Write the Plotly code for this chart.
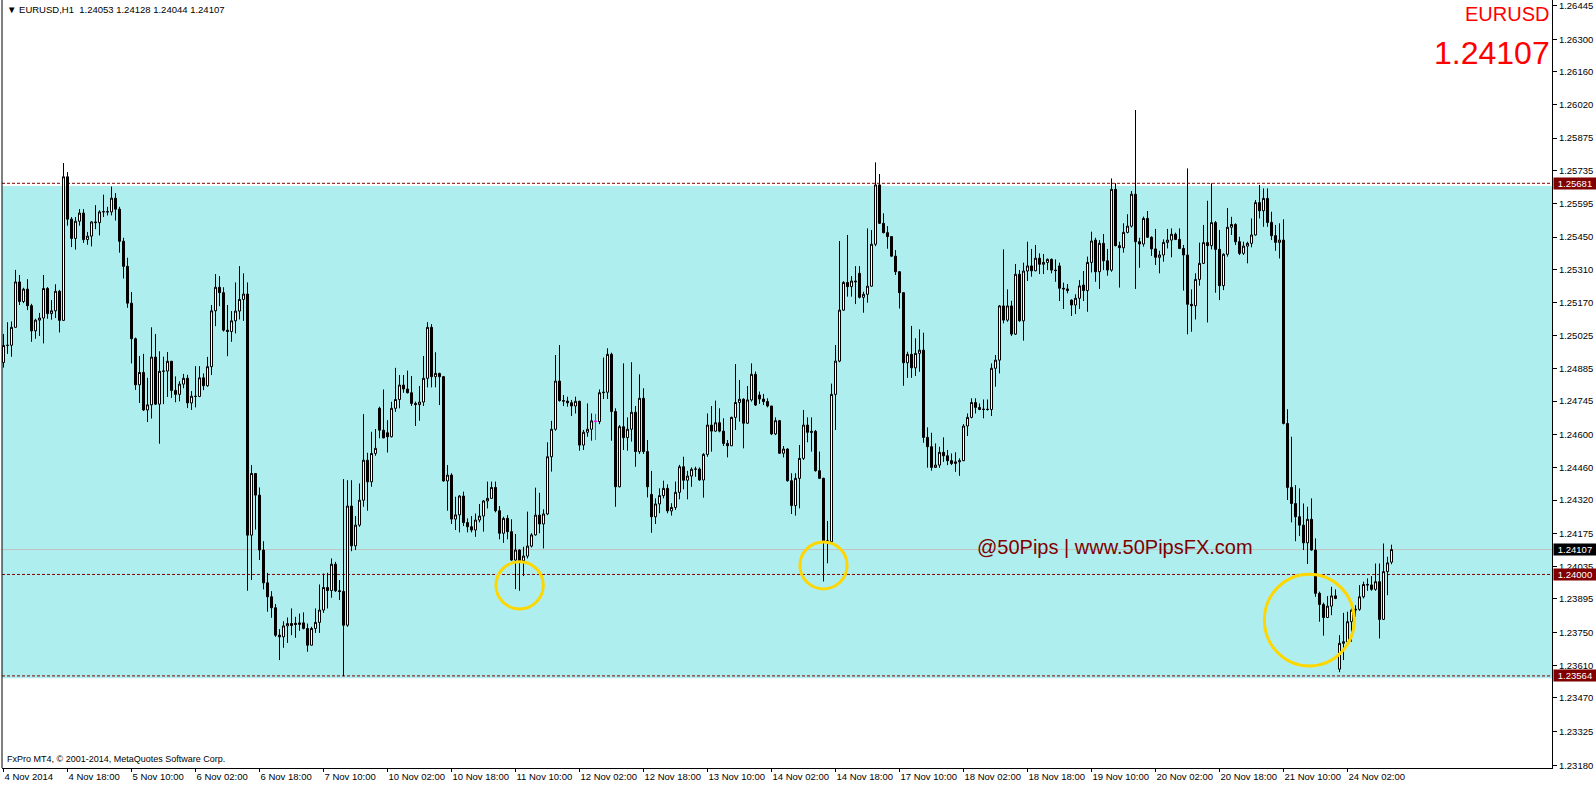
import plotly.graph_objects as go

# ---------------- data (EURUSD H1, prices in pips relative to 1.24000) ----------------
BASE_PRICE = 1.24
PIP = 0.0001

open_pips = [
    91.1, 98.4, 98.5, 106.2, 125.7, 117.3, 122.6, 115.5, 104.7, 109.3,
    110.2, 122.9, 112.1, 113.3, 121.7, 109.2, 170.9, 152.7, 144.4, 151.8,
    155.3, 143.9, 145.4, 151.5, 151.2, 155.8, 155.9, 155.8, 161.7, 157.0,
    143.2, 132.4, 116.6, 101.3, 81.5, 86.8, 70.7, 72.9, 93.4, 73.2,
    87.3, 87.4, 91.6, 79.1, 77.4, 81.8, 84.3, 73.7, 76.6, 76.5,
    84.5, 81.1, 89.3, 113.3, 123.4, 121.1, 105.0, 104.4, 109.0, 113.2,
    118.2, 120.5, 16.9, 43.4, 34.1, 10.5, -3.6, -9.6, -14.3, -26.1,
    -26.8, -22.1, -21.1, -21.0, -21.5, -20.8, -23.2, -30.4, -23.2, -20.6,
    -15.3, -5.6, -6.9, 4.4, -7.0, -7.3, -21.8, 29.4, 12.3, 21.2,
    31.9, 49.1, 39.8, 52.0, 71.4, 62.0, 60.9, 59.2, 71.4, 75.2,
    81.4, 79.7, 78.1, 73.5, 73.0, 74.1, 84.3, 106.2, 85.0, 86.4,
    85.0, 40.2, 42.7, 23.8, 25.6, 33.7, 22.3, 20.5, 19.1, 23.4,
    25.1, 31.6, 32.7, 37.4, 27.4, 17.7, 24.1, 18.4, 6.2, 10.5,
    5.9, 7.9, 12.2, 17.0, 25.5, 21.7, 26.0, 50.6, 62.4, 83.1,
    74.7, 74.5, 73.8, 72.4, 74.4, 55.6, 61.1, 62.4, 66.0, 65.7,
    78.1, 78.3, 94.6, 70.0, 37.7, 63.5, 58.8, 62.4, 69.7, 52.8,
    75.7, 52.8, 34.4, 24.8, 30.3, 33.9, 37.0, 27.3, 28.8, 35.3,
    46.3, 40.5, 42.3, 45.2, 45.3, 40.6, 51.6, 64.2, 61.6, 65.2,
    61.6, 56.3, 55.3, 67.5, 73.9, 75.3, 65.0, 75.0, 86.0, 77.1,
    75.4, 74.3, 72.4, 60.4, 66.1, 52.1, 53.9, 40.3, 29.6, 41.3,
    49.9, 64.2, 61.5, 61.5, 44.6, 41.3, 14.5, 14.1, 77.4, 91.7,
    113.6, 125.5, 123.7, 126.1, 129.4, 119.1, 120.4, 123.9, 141.9, 167.4,
    150.9, 146.9, 145.2, 136.8, 130.1, 121.1, 91.0, 94.6, 88.8, 95.0,
    96.4, 58.9, 54.9, 46.0, 47.0, 52.5, 51.0, 48.9, 47.7, 48.4,
    48.9, 63.8, 67.5, 73.9, 71.8, 70.9, 71.0, 70.9, 88.6, 92.1,
    115.4, 109.3, 115.4, 103.3, 129.0, 109.0, 130.4, 132.6, 130.5, 135.9,
    133.3, 134.1, 135.4, 130.8, 132.6, 123.0, 122.7, 117.9, 115.8, 118.7,
    124.4, 122.0, 134.1, 143.7, 130.1, 142.3, 134.8, 130.8, 165.5, 141.3,
    140.4, 147.0, 149.7, 163.4, 143.0, 142.0, 153.0, 144.9, 139.9, 136.3,
    137.3, 142.7, 143.7, 146.2, 144.0, 140.1, 137.3, 116.1, 115.5, 126.8,
    133.7, 142.6, 141.3, 151.2, 139.7, 124.1, 137.6, 149.2, 150.4, 143.0,
    138.0, 141.1, 142.3, 145.9, 159.8, 156.3, 161.6, 151.3, 145.6, 142.7,
    143.7, 64.9, 37.4, 30.5, 24.8, 21.2, 13.6, 23.7, 10.5, -8.1,
    -12.9, -18.5, -13.6, -9.2, -40.7, -29.6, -28.9, -20.3, -15.3, -15.0,
    -9.6, -4.3, -4.5, -6.4, -3.1, -19.3, 1.2, 5.3,
]

high_pips = [
    103.3, 108.4, 108.7, 130.9, 128.7, 123.2, 126.9, 116.3, 109.9, 112.4,
    128.7, 123.5, 117.9, 124.7, 122.3, 176.8, 172.9, 153.6, 153.6, 157.0,
    157.0, 147.2, 151.8, 158.7, 156.5, 163.2, 158.0, 166.7, 163.9, 158.0,
    144.7, 136.1, 121.4, 101.8, 93.9, 94.8, 84.5, 106.2, 103.3, 95.9,
    93.6, 95.6, 91.8, 85.1, 83.0, 86.2, 85.8, 78.8, 89.5, 89.5,
    86.4, 93.5, 115.8, 129.1, 128.2, 123.4, 115.8, 113.2, 125.5, 132.5,
    129.4, 125.5, 47.0, 43.4, 37.4, 14.3, 0.7, -7.2, -12.7, -23.5,
    -20.1, -18.5, -14.6, -18.2, -16.8, -16.3, -21.1, -22.5, -14.6, -4.3,
    0.4, 0.7, 6.9, 5.4, -2.4, 41.0, 40.5, 40.5, 25.1, 39.1,
    68.9, 52.3, 61.3, 62.5, 72.1, 79.5, 66.3, 74.2, 88.8, 85.7,
    85.7, 87.6, 85.3, 74.3, 81.0, 93.9, 108.4, 107.6, 95.5, 86.7,
    85.3, 47.0, 43.5, 33.4, 34.1, 35.6, 24.1, 25.1, 26.2, 30.3,
    32.0, 39.9, 39.9, 39.9, 29.4, 24.8, 25.5, 23.7, 17.4, 10.8,
    11.9, 27.0, 17.7, 37.3, 35.1, 28.0, 56.8, 66.0, 94.3, 98.6,
    77.1, 76.4, 75.0, 76.4, 74.7, 62.1, 73.5, 69.2, 69.0, 79.5,
    93.2, 97.2, 95.3, 71.4, 64.2, 90.7, 67.5, 91.2, 72.4, 86.0,
    80.0, 57.8, 44.5, 32.7, 37.0, 40.3, 38.7, 30.6, 39.9, 47.1,
    50.6, 44.5, 46.0, 46.3, 46.0, 52.1, 69.2, 72.4, 74.7, 71.4,
    67.1, 57.8, 67.8, 90.4, 83.6, 75.7, 81.0, 90.7, 87.2, 78.6,
    77.6, 75.7, 72.4, 67.5, 66.4, 55.2, 54.2, 43.5, 43.5, 55.6,
    70.7, 67.5, 67.5, 62.1, 52.8, 41.6, 23.0, 82.0, 98.6, 143.3,
    126.0, 145.9, 128.2, 132.5, 132.5, 121.5, 148.7, 148.0, 177.1, 172.1,
    155.2, 149.7, 145.2, 139.4, 130.4, 121.2, 95.7, 106.8, 101.5, 105.3,
    103.9, 63.2, 60.9, 56.3, 54.9, 58.9, 53.5, 52.0, 52.5, 49.9,
    64.6, 69.2, 75.7, 75.7, 73.5, 75.2, 75.2, 90.7, 94.3, 115.8,
    139.7, 122.5, 117.6, 133.4, 130.8, 134.0, 143.0, 139.9, 141.6, 138.0,
    137.7, 135.8, 135.8, 135.4, 134.0, 125.4, 124.8, 118.2, 120.4, 126.5,
    130.4, 136.6, 147.3, 144.7, 143.7, 146.3, 139.9, 170.2, 168.1, 143.0,
    150.9, 154.8, 164.8, 199.6, 144.7, 153.8, 156.2, 145.3, 148.5, 139.1,
    144.0, 148.5, 148.7, 146.9, 148.7, 141.6, 174.5, 122.5, 129.4, 142.6,
    150.2, 160.6, 168.1, 151.9, 148.0, 138.0, 157.5, 153.7, 150.9, 145.1,
    143.0, 143.0, 153.0, 160.9, 167.4, 165.9, 165.9, 155.9, 150.2, 150.9,
    152.6, 71.0, 59.2, 38.4, 37.0, 30.5, 29.1, 32.7, 15.5, -7.4,
    -12.1, -9.3, -5.3, -6.4, -26.1, -16.5, -16.0, -12.5, -13.2, -4.6,
    -3.1, -1.7, -0.7, 4.7, 4.7, 13.3, 7.6, 12.8,
]

low_pips = [
    88.9, 94.8, 93.6, 106.1, 115.8, 116.6, 113.6, 100.0, 101.3, 102.5,
    99.3, 109.9, 109.5, 110.2, 104.0, 108.9, 149.9, 140.7, 139.6, 149.9,
    142.5, 141.7, 141.0, 148.4, 145.7, 153.6, 154.3, 154.3, 152.1, 138.3,
    127.2, 114.6, 90.7, 79.3, 73.7, 70.3, 65.5, 67.0, 72.9, 56.2,
    73.2, 76.3, 75.9, 74.0, 74.4, 80.0, 71.5, 70.7, 71.8, 76.2,
    79.2, 80.7, 85.7, 106.7, 115.3, 104.4, 93.8, 100.0, 103.6, 109.6,
    109.0, -7.0, -2.4, 19.3, 6.2, -6.4, -16.0, -18.6, -26.8, -36.8,
    -31.5, -29.4, -26.1, -27.2, -24.2, -23.6, -33.2, -30.5, -25.1, -25.1,
    -16.5, -14.6, -10.0, -7.5, -11.0, -43.7, -22.5, 10.0, 10.5, 20.5,
    29.1, 27.4, 37.7, 51.0, 58.5, 58.5, 52.4, 58.9, 69.9, 71.4,
    78.1, 77.8, 72.4, 63.8, 66.1, 72.4, 80.4, 80.4, 80.4, 72.8,
    39.9, 27.4, 21.7, 19.1, 18.1, 20.8, 18.1, 18.1, 16.2, 22.4,
    18.4, 28.4, 32.7, 26.7, 15.1, 13.6, 15.1, 5.9, -6.3, -7.0,
    -0.7, 6.9, 11.6, 16.7, 17.7, 11.2, 25.5, 44.2, 61.8, 74.3,
    72.4, 72.1, 68.1, 69.2, 53.2, 53.5, 59.2, 57.5, 57.8, 64.6,
    75.4, 75.4, 57.5, 29.1, 37.4, 53.5, 53.2, 57.1, 46.3, 51.8,
    51.8, 33.1, 17.9, 21.7, 26.3, 32.7, 26.3, 25.3, 27.7, 32.3,
    36.6, 32.3, 37.7, 42.0, 40.3, 33.0, 50.6, 52.8, 61.4, 61.1,
    55.2, 50.3, 55.2, 62.1, 65.7, 54.2, 64.7, 74.3, 72.4, 73.3,
    72.8, 71.8, 59.9, 59.9, 51.8, 50.3, 39.9, 26.0, 25.3, 28.4,
    49.2, 56.8, 52.8, 44.2, 41.0, -3.0, 4.8, 13.8, 62.1, 91.2,
    113.3, 119.4, 119.4, 116.2, 118.6, 112.5, 116.8, 123.7, 141.1, 150.6,
    146.6, 140.0, 136.5, 128.7, 114.3, 81.1, 84.5, 84.5, 85.3, 87.1,
    56.6, 45.9, 44.6, 45.8, 45.8, 48.4, 47.0, 47.0, 44.1, 42.4,
    48.7, 59.5, 67.1, 69.2, 70.6, 67.1, 70.4, 68.1, 80.7, 86.4,
    107.9, 108.6, 102.5, 102.9, 108.6, 100.5, 126.1, 128.0, 130.3, 129.1,
    129.1, 130.8, 129.4, 125.8, 117.5, 114.1, 120.8, 111.1, 111.9, 114.1,
    117.5, 112.9, 129.8, 125.8, 122.7, 130.8, 128.4, 130.1, 141.0, 123.3,
    138.3, 146.6, 149.1, 122.7, 131.8, 140.9, 144.6, 136.9, 133.0, 129.4,
    134.4, 140.1, 136.3, 143.7, 139.8, 122.0, 103.2, 104.3, 109.6, 124.1,
    133.4, 108.3, 139.7, 121.1, 117.9, 122.2, 136.6, 145.9, 141.6, 137.3,
    137.3, 133.7, 140.6, 145.6, 153.0, 149.4, 149.4, 143.7, 139.1, 135.8,
    64.5, 32.0, 22.4, 14.3, 16.5, 10.5, 4.5, 10.2, -9.6, -20.3,
    -26.3, -18.6, -17.5, -10.6, -42.0, -36.8, -29.3, -28.9, -18.2, -15.6,
    -10.3, -7.0, -7.0, -7.0, -27.5, -19.6, -8.9, 4.4,
]

close_pips = [
    98.4, 98.5, 106.2, 125.7, 117.3, 122.6, 115.5, 104.7, 109.3, 110.2,
    122.9, 112.1, 113.3, 121.7, 109.2, 170.9, 152.7, 144.4, 151.8, 155.3,
    143.9, 145.4, 151.5, 151.2, 155.8, 155.9, 155.8, 161.7, 157.0, 143.2,
    132.4, 116.6, 101.3, 81.5, 86.8, 70.7, 72.9, 93.4, 73.2, 87.3,
    87.4, 91.6, 79.1, 77.4, 81.8, 84.3, 73.7, 76.6, 76.5, 84.5,
    81.1, 89.3, 113.3, 123.4, 121.1, 105.0, 104.4, 109.0, 113.2, 118.2,
    120.5, 16.9, 43.4, 34.1, 10.5, -3.6, -9.6, -14.3, -26.1, -26.8,
    -22.1, -21.1, -21.9, -21.5, -20.8, -23.2, -30.4, -23.2, -20.6, -15.3,
    -5.6, -6.9, 4.4, -7.0, -7.3, -21.8, 29.4, 12.3, 21.2, 31.9,
    49.1, 39.8, 52.0, 54.2, 62.0, 58.7, 59.2, 71.4, 75.2, 81.4,
    79.7, 78.1, 73.5, 73.0, 74.1, 84.3, 106.2, 85.0, 86.4, 85.0,
    40.2, 42.7, 23.8, 25.6, 33.7, 22.3, 20.5, 19.1, 23.4, 25.1,
    31.6, 32.7, 37.4, 27.4, 17.7, 24.1, 18.4, 6.2, 10.5, 5.9,
    7.9, 12.2, 17.0, 25.5, 21.7, 26.0, 50.6, 62.4, 83.1, 74.7,
    74.5, 73.8, 72.4, 74.4, 55.6, 61.1, 62.4, 66.0, 65.7, 78.1,
    78.3, 94.6, 70.0, 37.7, 63.5, 58.8, 62.4, 69.7, 52.8, 75.7,
    52.8, 37.7, 24.8, 30.3, 33.9, 37.0, 27.3, 28.8, 35.3, 46.3,
    40.5, 42.3, 45.2, 45.3, 40.6, 51.6, 64.2, 61.6, 65.2, 61.6,
    56.3, 55.3, 67.5, 73.9, 75.3, 65.0, 75.0, 86.0, 72.8, 75.4,
    74.3, 72.4, 60.4, 66.1, 52.1, 53.9, 40.3, 29.6, 41.3, 49.9,
    64.2, 61.1, 61.1, 44.6, 41.3, 14.5, 14.1, 77.4, 91.7, 113.6,
    125.5, 123.7, 126.1, 125.8, 119.1, 120.4, 123.9, 141.9, 167.4, 150.9,
    146.9, 145.2, 136.8, 130.1, 121.1, 91.0, 94.6, 88.8, 95.0, 96.4,
    58.9, 54.9, 46.0, 47.0, 52.5, 51.0, 48.9, 47.7, 48.4, 48.9,
    63.8, 67.5, 73.9, 71.8, 70.9, 71.0, 70.9, 88.6, 92.1, 115.4,
    109.3, 115.4, 103.3, 129.0, 109.0, 130.4, 132.6, 130.5, 135.9, 133.3,
    134.1, 135.4, 130.8, 130.6, 123.0, 122.7, 122.0, 115.8, 118.7, 124.0,
    122.0, 134.1, 143.3, 130.1, 142.3, 134.8, 130.8, 165.5, 141.3, 140.4,
    147.0, 149.7, 163.4, 143.0, 142.0, 153.0, 144.9, 139.9, 136.3, 137.3,
    142.7, 143.7, 146.2, 144.0, 140.1, 137.3, 116.1, 115.5, 126.8, 133.7,
    142.6, 141.3, 151.2, 139.7, 124.1, 137.6, 149.2, 150.4, 143.0, 138.0,
    141.1, 142.3, 145.9, 159.8, 156.3, 161.6, 151.3, 145.6, 142.7, 143.7,
    64.9, 37.4, 30.5, 24.8, 21.2, 13.6, 23.7, 10.5, -8.1, -12.9,
    -18.5, -13.6, -9.2, -10.3, -29.6, -28.9, -20.3, -15.3, -15.0, -9.6,
    -4.3, -4.5, -6.4, -3.1, -19.3, 1.2, 5.0, 10.7,
]

# time-axis labels (bar index -> label)
time_tick_bars = [0, 16, 32, 48, 64, 80, 96, 112, 128, 144, 160,
                  176, 192, 208, 224, 240, 256, 272, 288, 304, 320, 336]
time_tick_labels = ["4 Nov 2014", "4 Nov 18:00", "5 Nov 10:00", "6 Nov 02:00",
                    "6 Nov 18:00", "7 Nov 10:00", "10 Nov 02:00", "10 Nov 18:00",
                    "11 Nov 10:00", "12 Nov 02:00", "12 Nov 18:00", "13 Nov 10:00",
                    "14 Nov 02:00", "14 Nov 18:00", "17 Nov 10:00", "18 Nov 02:00",
                    "18 Nov 18:00", "19 Nov 10:00", "20 Nov 02:00", "20 Nov 18:00",
                    "21 Nov 10:00", "24 Nov 02:00"]

price_ticks = [1.26445, 1.26300, 1.26160, 1.26020, 1.25875, 1.25735, 1.25595,
               1.25450, 1.25310, 1.25170, 1.25025, 1.24885, 1.24745, 1.24600,
               1.24460, 1.24320, 1.24175, 1.24035, 1.23895, 1.23750, 1.23610,
               1.23470, 1.23325, 1.23180]

zone_low, zone_high = 1.23554, 1.25669
level_lines = [1.25681, 1.24000, 1.23564]
bid_price = 1.24107
highlight_bar = 148

# circles: (bar_from, bar_to, price_low, price_high)
circles = [(123.1, 134.95, 1.23852, 1.24055),
           (199.1, 210.9, 1.23938, 1.24140),
           (315.2, 337.7, 1.23607, 1.24001)]

# ---------------- build ----------------
def to_price(values):
    return [round(BASE_PRICE + v * PIP, 5) for v in values]

o = to_price(open_pips)
h = to_price(high_pips)
l = to_price(low_pips)
c = to_price(close_pips)
bars = list(range(len(c)))

FONT = "Liberation Sans, Arial, sans-serif"
MAROON = "#800000"

main = [i for i in bars if i != highlight_bar]

fig = go.Figure()
fig.add_trace(go.Candlestick(
    x=[bars[i] for i in main],
    open=[o[i] for i in main], high=[h[i] for i in main],
    low=[l[i] for i in main], close=[c[i] for i in main],
    increasing=dict(line=dict(color="black", width=1), fillcolor="white"),
    decreasing=dict(line=dict(color="black", width=1), fillcolor="black"),
    whiskerwidth=0, showlegend=False, hoverinfo="skip",
))
fig.add_trace(go.Candlestick(
    x=[highlight_bar], open=[o[highlight_bar]], high=[h[highlight_bar]],
    low=[l[highlight_bar]], close=[c[highlight_bar]],
    increasing=dict(line=dict(color="#FF00FF", width=1), fillcolor="#FF00FF"),
    decreasing=dict(line=dict(color="#FF00FF", width=1), fillcolor="#FF00FF"),
    whiskerwidth=0, showlegend=False, hoverinfo="skip",
))

shapes = []
shapes.append(dict(type="rect", xref="paper", x0=0, x1=1, yref="y",
                   y0=zone_low, y1=zone_high, fillcolor="#AFEEEE",
                   line=dict(width=0), layer="below"))
shapes.append(dict(type="line", xref="paper", x0=0, x1=1, yref="y",
                   y0=bid_price, y1=bid_price,
                   line=dict(color="#C0C0C0", width=1), layer="below"))
for lv in level_lines:
    shapes.append(dict(type="line", xref="paper", x0=0, x1=1, yref="y",
                       y0=lv, y1=lv,
                       line=dict(color=MAROON, width=1, dash="3px,2px"),
                       layer="below"))
for (x0, x1, y0, y1) in circles:
    shapes.append(dict(type="circle", xref="x", yref="y", x0=x0, x1=x1,
                       y0=y0, y1=y1, line=dict(color="#FFD700", width=3),
                       layer="above"))
# left frame line
shapes.append(dict(type="line", xref="paper", yref="paper", x0=0, x1=0,
                   y0=0, y1=1, line=dict(color="black", width=1)))

annotations = []
header = ("\u25BC EURUSD,H1\u00a0\u00a0" + f"{o[-1]:.5f} {h[-1]:.5f} {l[-1]:.5f} {c[-1]:.5f}")
annotations.append(dict(xref="paper", yref="paper", x=0, y=1, xanchor="left",
                        yanchor="top", xshift=3, yshift=-2, showarrow=False,
                        text=header, font=dict(family=FONT, size=9.5, color="black")))
annotations.append(dict(xref="paper", yref="paper", x=1, y=1, xanchor="right",
                        yanchor="top", xshift=-1, yshift=-1, showarrow=False,
                        text="EURUSD", font=dict(family=FONT, size=20, color="#FF0000")))
annotations.append(dict(xref="paper", yref="paper", x=1, y=0.931, xanchor="right",
                        yanchor="middle", xshift=0, showarrow=False,
                        text=f"{c[-1]:.5f}", font=dict(family=FONT, size=32, color="#FF0000")))
annotations.append(dict(xref="x", yref="y", x=242.9, y=1.24116, xanchor="left",
                        yanchor="middle", showarrow=False,
                        text="@50Pips | www.50PipsFX.com",
                        font=dict(family=FONT, size=20, color=MAROON)))
annotations.append(dict(xref="paper", yref="paper", x=0, y=0.0117, xanchor="left",
                        yanchor="middle", xshift=3, showarrow=False,
                        text="FxPro MT4, \u00a9 2001-2014, MetaQuotes Software Corp.",
                        font=dict(family=FONT, size=9, color="black")))
for lv in level_lines + [bid_price]:
    annotations.append(dict(xref="paper", yref="y", x=1, y=lv, xanchor="left",
                            yanchor="middle", xshift=1, showarrow=False,
                            text=f"{lv:.5f}", width=42, height=11, borderpad=0,
                            align="center",
                            bgcolor="black" if lv == bid_price else MAROON,
                            font=dict(family=FONT, size=9.5, color="white")))

fig.update_layout(
    template="none",
    width=1596, height=786,
    margin=dict(l=2, r=44, t=0, b=18, pad=0),
    paper_bgcolor="white", plot_bgcolor="white",
    font=dict(family=FONT, size=10, color="black"),
    boxgap=0.5, boxgroupgap=0,
    showlegend=False,
    shapes=shapes, annotations=annotations,
    xaxis=dict(range=[-0.375, 387.125], showgrid=False, zeroline=False,
               showline=True, linecolor="black", linewidth=1,
               ticks="outside", ticklen=3, tickcolor="black",
               tickvals=time_tick_bars, ticktext=time_tick_labels,
               tickangle=0, ticklabelposition="outside right",
               ticklabeloverflow="allow",
               tickfont=dict(family=FONT, size=9.5, color="black"),
               rangeslider=dict(visible=False), automargin=False,
               fixedrange=True),
    yaxis=dict(range=[1.231683, 1.264687], side="right", showgrid=False,
               zeroline=False, showline=True, linecolor="black", linewidth=1,
               ticks="outside", ticklen=4, tickcolor="black",
               tickvals=price_ticks, ticktext=[f"{p:.5f}" for p in price_ticks],
               ticklabeloverflow="allow",
               tickfont=dict(family=FONT, size=9.5, color="black"),
               automargin=False, fixedrange=True),
)

fig.write_html("out.html", config={"displayModeBar": False},
               post_script="document.body.style.margin='0';document.body.style.overflow='hidden';")
